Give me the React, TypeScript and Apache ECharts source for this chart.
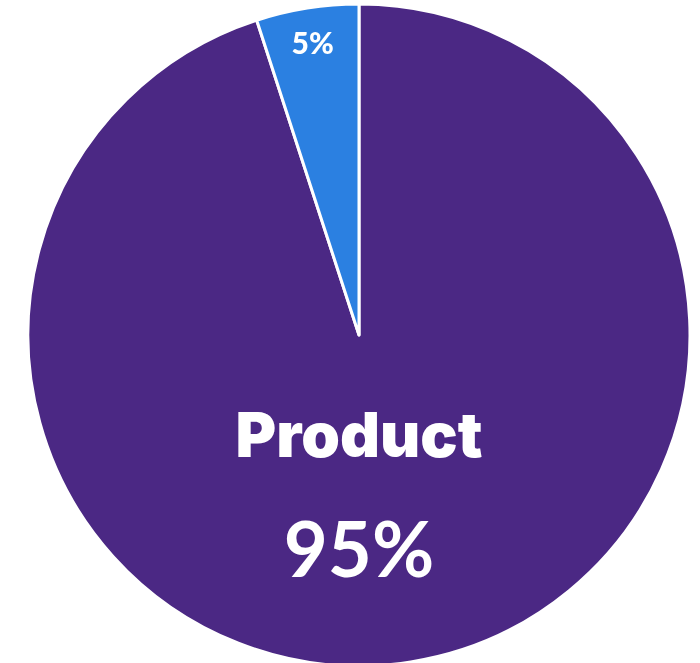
import React, { useEffect, useRef } from "react";
import * as echarts from "echarts";

const categories = ["Product", "Other"];
const values = [95, 5];
const labels = ["95%", "5%"];
const colors = ["#4B2884", "#2B80E1"];

export default function App() {
  const ref = useRef<HTMLDivElement>(null);
  useEffect(() => {
    const chart = echarts.init(ref.current!, undefined, { renderer: "svg" });
    const data = categories.map((name, i) => {
      const base: any = {
        name,
        value: values[i],
        itemStyle: { color: colors[i] },
      };
      if (i === 0) {
        base.label = {
          show: true,
          position: "center",
          offset: [0, 156],
          formatter: `{a|${name}}\n{b|${labels[i]}}`,
          rich: {
            a: {
              fontFamily: "Inter",
              fontWeight: 900,
              fontSize: 62,
              color: "#ffffff",
              lineHeight: 113,
            },
            b: {
              fontFamily: "Lato",
              fontWeight: 700,
              fontSize: 76,
              color: "#ffffff",
              lineHeight: 113,
            },
          },
        };
      } else {
        base.label = {
          show: true,
          position: "inside",
          offset: [-20, -127],
          formatter: labels[i],
          fontFamily: "Lato",
          fontWeight: 900,
          fontSize: 30,
          color: "#ffffff",
        };
      }
      return base;
    });
    chart.setOption({
      animation: false,
      series: [
        {
          type: "pie",
          center: [359, 335],
          radius: [0, 331],
          startAngle: 90,
          clockwise: true,
          itemStyle: { borderColor: "#ffffff", borderWidth: 3 },
          labelLine: { show: false },
          emphasis: { disabled: true },
          data,
        },
      ],
    });
    return () => chart.dispose();
  }, []);
  return (
    <div
      ref={ref}
      style={{ position: "fixed", left: 0, top: 0, width: 700, height: 663 }}
    />
  );
}
